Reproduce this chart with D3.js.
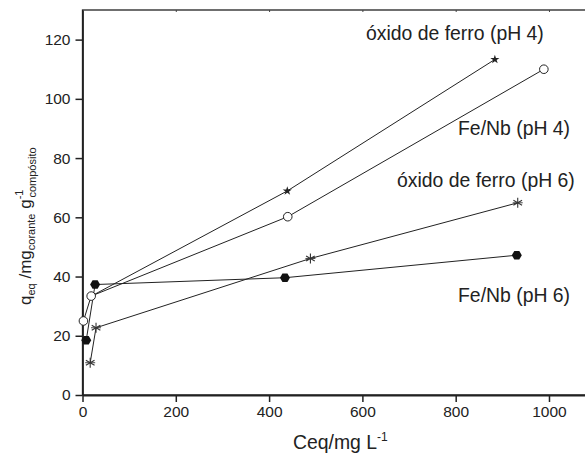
<!DOCTYPE html>
<html>
<head>
<meta charset="utf-8">
<script src="https://cdn.jsdelivr.net/npm/d3@7"></script>
<style>
body{margin:0;background:#fff;}
svg{font-family:"Liberation Sans",Arial,Helvetica,sans-serif;}
</style>
</head>
<body>
<div class="canvas"></div>
<script>
// data
const starX=[19,439,884];            // óxido de ferro (pH 4)
const starY=[33.4,68.9,113.3];
const circX=[2,18.6,440,989];        // Fe/Nb (pH 4)
const circY=[25,33.4,60.2,110];
const astX=[16.5,29,488.6,933];      // óxido de ferro (pH 6)
const astY=[10.9,22.7,46.1,64.9];
const hexX=[8,27,434,931];           // Fe/Nb (pH 6)
const hexY=[18.5,37.3,39.6,47.2];
const xTicks=[0,200,400,600,800,1000];
const yTicks=[0,20,40,60,80,100,120];

const svg=d3.select('.canvas').append('svg')
  .attr('width',585).attr('height',453);

const x=d3.scaleLinear().domain([0,1080]).range([82.5,586.3]);
const y=d3.scaleLinear().domain([0,130]).range([395,10]);

//frame (top + right)
svg.append('rect')
  .attr('x',x(0)).attr('y',y(130))
  .attr('width',x(1080)-x(0)).attr('height',y(0)-y(130))
  .attr('fill','none').attr('stroke','#222').attr('stroke-width',1.3);

//axes
const xAxis=d3.axisBottom(x).tickValues(xTicks).tickFormat(d3.format('d'))
  .tickSize(7).tickPadding(4).tickSizeOuter(0);
const yAxis=d3.axisLeft(y).tickValues(yTicks).tickSize(7).tickPadding(5).tickSizeOuter(0);
const gx=svg.append('g').attr('transform',`translate(0,${y(0)})`).call(xAxis);
const gy=svg.append('g').attr('transform',`translate(${x(0)},0)`).call(yAxis);
[gx,gy].forEach(g=>{
  g.select('.domain').attr('stroke','#222').attr('stroke-width',1.8);
  g.selectAll('.tick line').attr('stroke','#222').attr('stroke-width',1.5);
  g.selectAll('.tick text').attr('font-size',15.5).attr('fill','#222')
    .attr('font-family','"Liberation Sans",Arial,sans-serif');
});
//small inward ticks on top
svg.append('g').attr('transform',`translate(0,${y(130)})`)
  .call(d3.axisBottom(x).tickValues(xTicks.slice(1)).tickSize(2).tickFormat(''))
  .call(g=>g.select('.domain').remove())
  .selectAll('line').attr('stroke','#444');

//lines
const line=d3.line().x(d=>x(d[0])).y(d=>y(d[1]));
const series=[
  {xs:starX,ys:starY,sym:'star'},
  {xs:astX,ys:astY,sym:'ast'},
  {xs:hexX,ys:hexY,sym:'hex'},
  {xs:circX,ys:circY,sym:'circ'}
];
series.forEach(s=>{
  const pts=s.xs.map((v,i)=>[v,s.ys[i]]);
  svg.append('path').datum(pts).attr('d',line)
    .attr('fill','none').attr('stroke','#222').attr('stroke-width',1);
});

//markers
const hexPath=r=>d3.range(6).map(i=>{
  const a=Math.PI/3*i;
  return [r*Math.cos(a),r*Math.sin(a)];
});
series.forEach(s=>{
  const pts=s.xs.map((v,i)=>[v,s.ys[i]]);
  const g=svg.append('g').selectAll('g').data(pts).enter().append('g')
    .attr('transform',d=>`translate(${x(d[0])},${y(d[1])})`);
  if(s.sym==='star'){
    g.append('path').attr('d',d3.symbol(d3.symbolStar,26)).attr('fill','#222');
  } else if(s.sym==='circ'){
    g.append('circle').attr('r',4.3).attr('fill','#fff').attr('stroke','#222').attr('stroke-width',1);
  } else if(s.sym==='hex'){
    g.append('polygon').attr('points',hexPath(5).map(p=>p.join(',')).join(' ')).attr('fill','#111');
  } else {
    [0,60,120].forEach(a=>{
      g.append('line').attr('x1',-5).attr('x2',5).attr('y1',0).attr('y2',0)
        .attr('transform',`rotate(${a+90})`).attr('stroke','#333').attr('stroke-width',1.1);
    });
    g.append('line').attr('x1',-5).attr('x2',5).attr('stroke','#333').attr('stroke-width',0.9);
  }
});

//series labels
const labels=[
  {t:'óxido de ferro (pH 4)',x:366,y:40},
  {t:'Fe/Nb (pH 4)',x:458,y:135},
  {t:'óxido de ferro (pH 6)',x:397,y:187},
  {t:'Fe/Nb (pH 6)',x:458,y:302}
];
svg.selectAll('text.lab').data(labels).enter().append('text')
  .attr('class','lab').attr('x',d=>d.x).attr('y',d=>d.y)
  .attr('font-size',19.4).attr('fill','#222').text(d=>d.t);

//x title
const xt=svg.append('text').attr('x',293).attr('y',449).attr('font-size',19.4).attr('fill','#222');
xt.append('tspan').text('Ceq/mg L');
xt.append('tspan').attr('font-size',12).attr('dy',-8).text('-1');

//y title
const yt=svg.append('text').attr('transform','translate(31,305) rotate(-90)')
  .attr('font-size',17).attr('fill','#222');
yt.append('tspan').text('q');
yt.append('tspan').attr('font-size',11).attr('dy',4).text('eq');
yt.append('tspan').attr('dy',-4).text(' /mg');
yt.append('tspan').attr('font-size',11).attr('dy',4).text('corante');
yt.append('tspan').attr('dy',-4).text(' g');
yt.append('tspan').attr('font-size',11).attr('dy',-8).text('-1');
yt.append('tspan').attr('font-size',11).attr('dx',-8).attr('dy',13).text('compósito');
</script>
</body>
</html>
